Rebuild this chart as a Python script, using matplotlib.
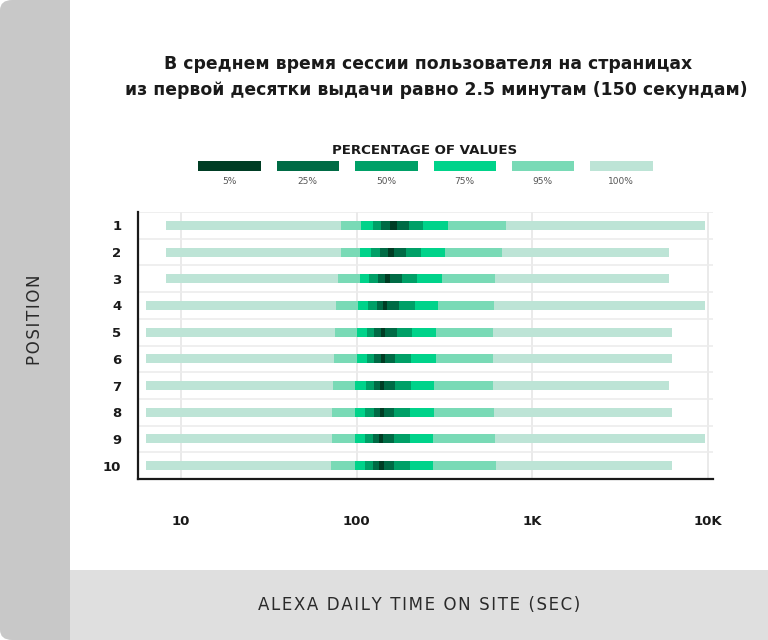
import numpy as np
import matplotlib.pyplot as plt
from matplotlib.patches import Rectangle, FancyBboxPatch

plt.rcParams['font.family'] = ['DejaVu Sans']

# позиции в выдаче
positions = [1, 2, 3, 4, 5, 6, 7, 8, 9, 10]

# границы интервалов (сек), по уровням
lo_100 = [8.2, 8.2, 8.2, 6.3, 6.3, 6.3, 6.3, 6.3, 6.3, 6.3]
hi_100 = [9700, 6050, 6050, 9700, 6270, 6270, 6050, 6270, 9700, 6270]
lo_95 = [82, 81.6, 78.7, 76.7, 75.7, 74.8, 73.8, 72.8, 72.8, 72]
hi_95 = [713, 676, 617, 608, 598, 598, 598, 603, 611, 627]
lo_75 = [106, 105, 104, 102, 101, 101, 98.4, 98.4, 97.5, 97.5]
hi_75 = [330, 321, 307, 291, 283, 282, 278, 276, 272, 272]
lo_50 = [123.5, 121, 118, 116, 114, 114, 113, 112, 112, 112]
hi_50 = [239, 233, 222, 216, 206, 205, 203, 202, 202, 202]
lo_25 = [138, 136, 132, 130, 126, 126, 125, 125, 124, 124]
hi_25 = [198, 192, 182, 175, 169, 166, 166, 164, 163, 163]
lo_5 = [156, 152, 146, 141.6, 138, 138, 136.5, 135.5, 134, 134]
hi_5 = [170, 164, 156, 150, 146, 145, 144, 142.6, 141.6, 142.6]

levels = ['100%', '95%', '75%', '50%', '25%', '5%']
colors = ['#bde4d6', '#79dab6', '#00d38a', '#00a067', '#006b45', '#003d24']
bounds = [(lo_100, hi_100), (lo_95, hi_95), (lo_75, hi_75),
          (lo_50, hi_50), (lo_25, hi_25), (lo_5, hi_5)]

xticks = [10, 100, 1000, 10000]
xticklabels = ['10', '100', '1K', '10K']

W, H = 768, 640
fig = plt.figure(figsize=(W / 100, H / 100), dpi=100)


def fx(px):
    return px / W


def fy(py):
    return 1 - py / H


def spaced(s):
    # разрядка букв тонкими пробелами
    return '\u200a'.join(s)


# фон: серые полосы слева и снизу
fig.patches.append(FancyBboxPatch((fx(0), fy(640)), fx(90), 1, boxstyle='round,pad=0,rounding_size=0.016',
                                  transform=fig.transFigure, fc='#c8c8c8', ec='none', zorder=-3))
fig.patches.append(Rectangle((fx(70), fy(640)), fx(698), 70 / H, transform=fig.transFigure,
                             fc='#dfdfdf', ec='none', zorder=-2))
fig.patches.append(Rectangle((fx(70), fy(570)), fx(698), 570 / H, transform=fig.transFigure,
                             fc='white', ec='none', zorder=-2))

ax = fig.add_axes([fx(138), fy(479), fx(712.7 - 138), (479 - 212) / H])
ax.set_facecolor('none')

for (lo, hi), c in zip(bounds, colors):
    lo = np.array(lo)
    hi = np.array(hi)
    ax.barh(positions, hi - lo, left=lo, height=0.34, color=c, zorder=3)

ax.set_xscale('log')
ax.set_xlim(5.69, 10690)
ax.set_ylim(10.5, 0.5)
ax.set_xticks(xticks)
ax.set_xticklabels(xticklabels)
ax.xaxis.set_minor_locator(plt.NullLocator())
ax.set_yticks(positions)
ax.set_yticks(np.arange(0.5, 11, 0.5), minor=True)
ax.grid(True, which='major', axis='x', color='#e6e6e6', lw=1.2, zorder=0)
ax.grid(True, which='minor', axis='y', color='#ececec', lw=1.2, zorder=0)
ax.tick_params(axis='both', which='both', length=0)
ax.tick_params(axis='x', pad=26, labelsize=9.5, labelcolor='#1a1a1a')
ax.tick_params(axis='y', pad=12, labelsize=9.5, labelcolor='#1a1a1a')
for t in ax.get_xticklabels() + ax.get_yticklabels():
    t.set_fontweight('bold')
for s in ['top', 'right']:
    ax.spines[s].set_visible(False)
for s in ['left', 'bottom']:
    ax.spines[s].set_color('#1a1a1a')
    ax.spines[s].set_linewidth(1.6)

# заголовок
fig.text(fx(428), fy(64), 'В среднем время сессии пользователя на страницах', ha='center', va='center',
         fontsize=12.4, fontweight='bold', color='#1a1a1a')
fig.text(fx(436), fy(90), 'из первой десятки выдачи равно 2.5 минутам (150 секундам)', ha='center',
         va='center', fontsize=12.4, fontweight='bold', color='#1a1a1a')

# легенда
fig.text(fx(425), fy(151), 'PERCENTAGE OF VALUES', ha='center', va='center', fontsize=9.6,
         fontweight='bold', color='#1a1a1a')
leg_x = [198, 276.5, 355, 433.5, 511.5, 590]
for x0, lab, c in zip(leg_x, levels[::-1], colors[::-1]):
    fig.patches.append(Rectangle((fx(x0), fy(171)), fx(62.5), 9.5 / H, transform=fig.transFigure,
                                 fc=c, ec='none', zorder=2))
    fig.text(fx(x0 + 31), fy(181), lab, ha='center', va='center', fontsize=6.5, color='#555555')

# подписи осей
fig.text(fx(35), fy(320), spaced('POSITION'), ha='center', va='center', rotation=90, fontsize=12,
         fontweight='medium', color='#2a2a2a', zorder=3)
fig.text(fx(419), fy(605), spaced('ALEXA DAILY TIME ON SITE (SEC)'), ha='center', va='center',
         fontsize=12, fontweight='medium', color='#2a2a2a', zorder=3)

fig.savefig('out.png', dpi=100)
